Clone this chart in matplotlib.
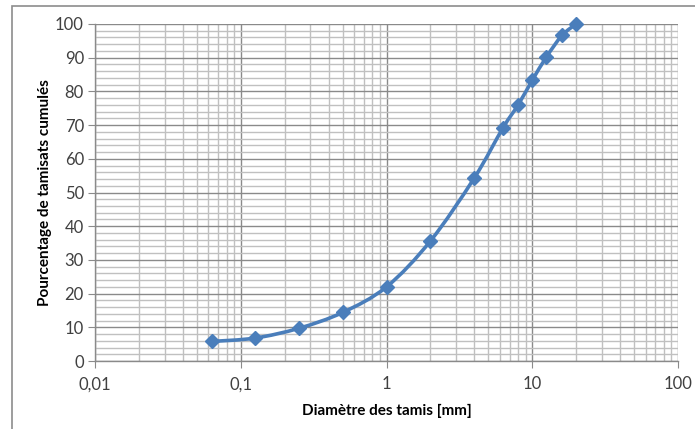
import numpy as np
import matplotlib.pyplot as plt
from matplotlib.path import Path
from matplotlib.patches import PathPatch, Rectangle
from matplotlib.ticker import FixedLocator, LogLocator, MultipleLocator, FuncFormatter

# sieve sizes [mm] and cumulative passing [%]
tamis = [0.063, 0.125, 0.25, 0.5, 1, 2, 4, 6.3, 8, 10, 12.5, 16, 20]
passant = [5.8, 6.8, 9.7, 14.4, 22.0, 35.6, 54.3, 69.2, 76.0, 83.3, 90.2, 96.6, 100]

xticks = [0.01, 0.1, 1, 10, 100]
xticklabels = ['0,01', '0,1', '1', '10', '100']

blue = '#4a7ebb'
font = ['Lato', 'DejaVu Sans']
plt.rcParams['font.family'] = font

fig = plt.figure(figsize=(6.95, 4.29), dpi=100)
ax = fig.add_axes([95/695, 68/429, 583/695, 337/429])

# outer chart frame (Excel style, right/bottom cut off)
fig.patches.append(Rectangle((12/695, -0.1), 1.2, (429-6)/429 + 0.1, transform=fig.transFigure,
                             fill=False, edgecolor='#8c8c8c', linewidth=1.2))

ax.set_xscale('log')
ax.set_xlim(0.01, 100)
ax.set_ylim(0, 100)

ax.xaxis.set_major_locator(FixedLocator(xticks))
ax.set_xticklabels(xticklabels)
ax.xaxis.set_minor_locator(LogLocator(base=10, subs=np.arange(2, 10)))
ax.xaxis.set_minor_formatter(FuncFormatter(lambda v, p: ''))
ax.yaxis.set_major_locator(MultipleLocator(10))
ax.yaxis.set_minor_locator(MultipleLocator(2))

ax.grid(which='minor', color='#c0c0c0', linewidth=1.0)
ax.grid(which='major', color='#8a8a8a', linewidth=1.0)
ax.set_axisbelow(True)

for s in ['top', 'right']:
    ax.spines[s].set_visible(False)
for s in ['left', 'bottom']:
    ax.spines[s].set_color('#8a8a8a')
    ax.spines[s].set_linewidth(1.0)
ax.tick_params(which='major', length=5, color='#8a8a8a', labelsize=12, labelcolor='#404040')
ax.tick_params(axis='x', which='major', pad=6)
ax.tick_params(axis='y', which='major', pad=3)
ax.tick_params(which='minor', length=0)

# smoothed line (Catmull-Rom bezier in log-x space, as Excel does)
lx = np.log10(tamis)
py = np.array(passant, dtype=float)
n = len(lx)
verts = [(tamis[0], passant[0])]
codes = [Path.MOVETO]
for i in range(n - 1):
    p0 = (lx[max(i-1, 0)], py[max(i-1, 0)])
    p1 = (lx[i], py[i])
    p2 = (lx[i+1], py[i+1])
    p3 = (lx[min(i+2, n-1)], py[min(i+2, n-1)])
    c1 = (p1[0] + (p2[0]-p0[0])/6, p1[1] + (p2[1]-p0[1])/6)
    c2 = (p2[0] - (p3[0]-p1[0])/6, p2[1] - (p3[1]-p1[1])/6)
    for c in (c1, c2, p2):
        verts.append((10**c[0], c[1]))
    codes += [Path.CURVE4]*3
ax.add_patch(PathPatch(Path(verts, codes), fill=False, edgecolor=blue, linewidth=2.6,
                       capstyle='round', joinstyle='round', zorder=3, clip_on=False))
ax.plot(tamis, passant, linestyle='none', marker='D', markersize=7, color=blue,
        zorder=4, clip_on=False)

ax.set_xlabel('Diamètre des tamis [mm]', fontsize=11, fontweight='bold', labelpad=8)
ax.set_ylabel('Pourcentage de tamisats cumulés', fontsize=11, fontweight='bold', labelpad=2)

fig.savefig('out.png', dpi=100)
